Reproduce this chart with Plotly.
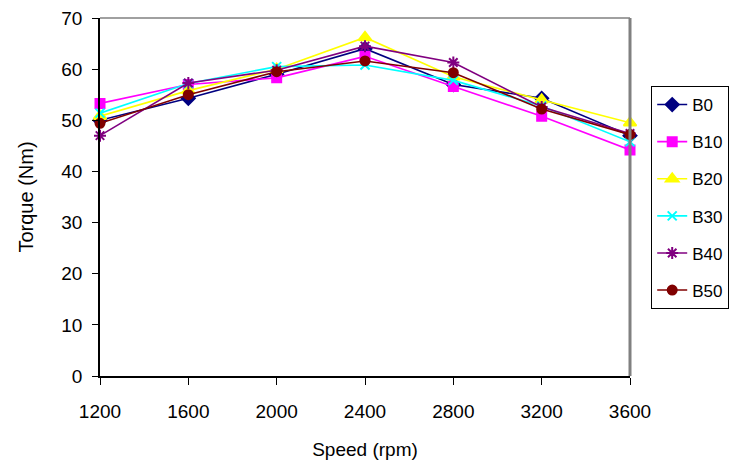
import plotly.graph_objects as go

speed = [1200, 1600, 2000, 2400, 2800, 3200, 3600]
B0 = [50.0, 54.3, 59.0, 64.0, 57.0, 54.3, 47.0]
B10 = [53.3, 57.0, 58.3, 62.5, 56.6, 50.8, 44.2]
B20 = [50.8, 55.8, 60.0, 66.2, 58.5, 54.0, 49.5]
B30 = [51.4, 57.2, 60.5, 60.8, 57.8, 52.8, 45.8]
B40 = [47.0, 57.3, 59.8, 64.5, 61.3, 52.6, 47.4]
B50 = [49.4, 55.0, 59.5, 61.6, 59.3, 52.2, 47.2]

series = [
    ("B0", B0, "#000080", "diamond", 10),
    ("B10", B10, "#FF00FF", "square", 9),
    ("B20", B20, "#FFFF00", "triangle-up", 11),
    ("B30", B30, "#00FFFF", "x-thin-open", 9),
    ("B40", B40, "#800080", "asterisk-open", 10),
    ("B50", B50, "#800000", "circle", 9),
]

fig = go.Figure()
for i, (name, vals, color, sym, size) in enumerate(series):
    fig.add_trace(go.Scatter(
        x=speed, y=vals, name=name, mode="lines+markers",
        line=dict(color=color, width=1.6),
        marker=dict(symbol=sym, size=size, color=color,
                    line=dict(color=color, width=2)),
        legendgroup=f"g{i}", cliponaxis=False,
    ))

font = dict(family="Liberation Sans, Arial, sans-serif", size=19, color="black")
fig.update_layout(
    width=741, height=466,
    margin=dict(l=100, r=111, t=18, b=90, autoexpand=False),
    paper_bgcolor="white", plot_bgcolor="white",
    font=font,
    showlegend=True,
    legend=dict(x=1.04, y=0.81, xanchor="left", yanchor="top",
                bordercolor="black", borderwidth=1, bgcolor="white",
                tracegroupgap=12, font=dict(size=17)),
    xaxis=dict(range=[1200, 3600], tickvals=speed, ticktext=[str(s) for s in speed],
               showgrid=False, zeroline=False, showline=True, linecolor="black",
               linewidth=1.5, ticks="outside", ticklen=7, tickcolor="black",
               ticklabelstandoff=10,
               title=dict(text="Speed (rpm)", standoff=22, font=dict(size=19))),
    yaxis=dict(range=[0, 70], tickvals=[0, 10, 20, 30, 40, 50, 60, 70],
               showgrid=False, zeroline=False, showline=True, linecolor="black",
               linewidth=1.5, ticks="outside", ticklen=6, tickcolor="black",
               ticklabelstandoff=6,
               title=dict(text="Torque (Nm)", standoff=22, font=dict(size=20))),
    shapes=[
        dict(type="line", xref="paper", yref="paper", x0=0, x1=1, y0=1, y1=1,
             line=dict(color="#808080", width=1.5)),
        dict(type="line", xref="paper", yref="paper", x0=1, x1=1, y0=0, y1=1,
             line=dict(color="#808080", width=3)),
    ],
)

fig.write_html("out.html", config={"displayModeBar": False},
               post_script="document.body.style.margin='0';document.body.style.overflow='hidden';")
